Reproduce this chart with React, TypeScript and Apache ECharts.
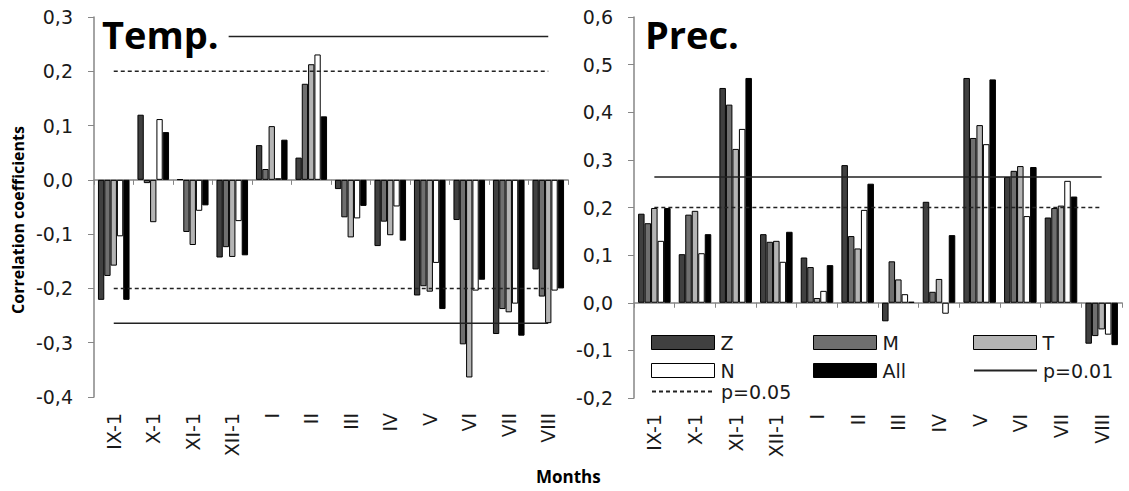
import React, { useEffect, useRef } from "react";
import * as echarts from "echarts";

const categories = ["IX-1", "X-1", "XI-1", "XII-1", "I", "II", "III", "IV", "V", "VI", "VII", "VIII"];
const yTicksTemp = { min: -0.4, max: 0.3, interval: 0.1 };
const yTicksPrec = { min: -0.2, max: 0.6, interval: 0.1 };

const tempZ = [-0.221, 0.12, 0.001, -0.143, 0.064, 0.041, -0.017, -0.122, -0.213, -0.074, -0.284, -0.165];
const tempM = [-0.177, -0.006, -0.096, -0.124, 0.02, 0.177, -0.069, -0.077, -0.196, -0.303, -0.238, -0.215];
const tempT = [-0.158, -0.078, -0.12, -0.142, 0.099, 0.213, -0.106, -0.102, -0.206, -0.364, -0.244, -0.264];
const tempN = [-0.104, 0.112, -0.057, -0.076, 0.003, 0.231, -0.071, -0.049, -0.153, -0.204, -0.228, -0.204];
const tempAll = [-0.221, 0.088, -0.047, -0.139, 0.074, 0.117, -0.048, -0.112, -0.238, -0.184, -0.287, -0.2];

const precZ = [0.187, 0.102, 0.451, 0.144, 0.095, 0.289, -0.039, 0.212, 0.472, 0.264, 0.179, -0.086];
const precM = [0.167, 0.185, 0.416, 0.128, 0.075, 0.14, 0.087, 0.023, 0.346, 0.277, 0.199, -0.07];
const precT = [0.199, 0.193, 0.323, 0.13, 0.01, 0.114, 0.049, 0.05, 0.373, 0.287, 0.204, -0.056];
const precN = [0.13, 0.104, 0.365, 0.086, 0.025, 0.195, 0.018, -0.023, 0.333, 0.182, 0.256, -0.067];
const precAll = [0.199, 0.144, 0.472, 0.149, 0.079, 0.25, 0.002, 0.142, 0.469, 0.285, 0.223, -0.089];

const p01Upper = [0.264, 0.264, 0.264, 0.264, 0.264, 0.264, 0.264, 0.264, 0.264, 0.264, 0.264, 0.264];
const p01Lower = [-0.264, -0.264, -0.264, -0.264, -0.264, -0.264, -0.264, -0.264, -0.264, -0.264, -0.264, -0.264];
const p05Upper = [0.2, 0.2, 0.2, 0.2, 0.2, 0.2, 0.2, 0.2, 0.2, 0.2, 0.2, 0.2];
const p05Lower = [-0.2, -0.2, -0.2, -0.2, -0.2, -0.2, -0.2, -0.2, -0.2, -0.2, -0.2, -0.2];

const seriesNames = ["Z", "M", "T", "N", "All"];
const seriesColors = ["#404040", "#6f6f6f", "#b4b4b4", "#ffffff", "#000000"];

const FONT = "'DejaVu Sans', sans-serif";
const BOLD_FONT = "'Open Sans', sans-serif";
const AXIS_GRAY = "#868686";
const TEXT = "#1a1a1a";

export default function App() {
  const ref = useRef<HTMLDivElement>(null);
  useEffect(() => {
    if (!ref.current) return;
    const chart = echarts.init(ref.current, null, { renderer: "svg" });
    const fmt = (v: number) => v.toFixed(1).replace(".", ",");

    const labelAxis = (gridIndex: number) => ({
      type: "category",
      gridIndex,
      data: categories,
      position: "bottom",
      axisLine: { show: false, onZero: false },
      axisTick: { show: false },
      axisLabel: { rotate: 90, margin: 16, fontSize: 19, color: TEXT, fontFamily: FONT },
    });
    const zeroAxis = (gridIndex: number) => ({
      type: "category",
      gridIndex,
      data: categories,
      position: "bottom",
      axisLine: { show: true, onZero: true, lineStyle: { color: AXIS_GRAY, width: 1.5 } },
      axisTick: { show: true, inside: false, length: 5, lineStyle: { color: AXIS_GRAY } },
      axisLabel: { show: false },
    });
    const yAxis = (gridIndex: number, t: { min: number; max: number; interval: number }) => ({
      type: "value",
      gridIndex,
      min: t.min,
      max: t.max,
      interval: t.interval,
      splitLine: { show: false },
      axisLine: { show: true, lineStyle: { color: AXIS_GRAY, width: 1.5 } },
      axisTick: { show: true, length: 6, lineStyle: { color: AXIS_GRAY } },
      axisLabel: { formatter: fmt, fontSize: 19, color: TEXT, fontFamily: FONT, margin: 21 },
    });

    const bars = (grid: number, data: number[][]) =>
      data.map((d, i) => ({
        type: "bar",
        name: seriesNames[i],
        xAxisIndex: grid * 2,
        yAxisIndex: grid,
        data: d,
        barGap: "0%",
        barCategoryGap: "20%",
        itemStyle: { color: seriesColors[i], borderColor: "#000", borderWidth: 1 },
      }));
    const line = (grid: number, name: string, data: number[], dashed: boolean) => ({
      type: "line",
      name,
      xAxisIndex: grid * 2,
      yAxisIndex: grid,
      data,
      symbol: "none",
      silent: true,
      z: 3,
      lineStyle: { color: "#222", width: 1.5, type: dashed ? [4, 3] : "solid" },
      itemStyle: { color: "#222" },
    });

    const legendBase = (name: string, left: number, top: number) => ({
      data: [name],
      left,
      top,
      padding: 0,
      itemWidth: 63,
      itemHeight: 14,
      itemGap: 0,
      selectedMode: false,
      textStyle: { fontSize: 19, lineHeight: 18, color: TEXT, fontFamily: FONT, padding: [0, 0, 0, 1] },
    });
    const legendBar = (idx: number, left: number, top: number) => ({
      ...legendBase(seriesNames[idx], left, top),
      icon: "rect",
      itemStyle: { color: seriesColors[idx], borderColor: "#000", borderWidth: 1 },
    });
    const legendLine = (name: string, left: number, top: number) => ({
      ...legendBase(name, left, top),
      itemStyle: { opacity: 0 },
    });

    const option: any = {
      animation: false,
      backgroundColor: "#fff",
      textStyle: { fontFamily: FONT },
      title: [
        {
          text: "Temp.",
          left: 97,
          top: 15,
          padding: [0, 10, 0, 5],
          backgroundColor: "#fff",
          textStyle: { fontSize: 38, fontWeight: "bold", color: "#000", fontFamily: BOLD_FONT },
        },
        {
          text: "Prec.",
          left: 640,
          top: 15,
          padding: [0, 10, 0, 5],
          backgroundColor: "#fff",
          textStyle: { fontSize: 38, fontWeight: "bold", color: "#000", fontFamily: BOLD_FONT },
        },
        {
          text: "Months",
          left: 536,
          top: 468,
          padding: 0,
          textStyle: { fontSize: 17, fontWeight: "bold", color: "#000", fontFamily: BOLD_FONT },
        },
      ],
      graphic: [
        {
          type: "text",
          x: 18,
          y: 220,
          rotation: Math.PI / 2,
          style: {
            text: "Correlation coefficients",
            font: "bold 16px 'Open Sans', sans-serif",
            fill: "#000",
            align: "center",
            verticalAlign: "middle",
          },
        },
      ],
      legend: [
        legendBar(0, 651, 333),
        legendBar(1, 813, 333),
        legendBar(2, 973, 333),
        legendBar(3, 651, 361),
        legendBar(4, 813, 361),
        legendLine("p=0.01", 973, 361),
        legendLine("p=0.05", 651, 382),
      ],
      grid: [
        { left: 94, top: 17, width: 474, height: 380 },
        { left: 634, top: 17, width: 488, height: 381 },
      ],
      xAxis: [labelAxis(0), zeroAxis(0), labelAxis(1), zeroAxis(1)],
      yAxis: [yAxis(0, yTicksTemp), yAxis(1, yTicksPrec)],
      series: [
        ...bars(0, [tempZ, tempM, tempT, tempN, tempAll]),
        line(0, "p=0.01", p01Upper, false),
        line(0, "p=0.01", p01Lower, false),
        line(0, "p=0.05", p05Upper, true),
        line(0, "p=0.05", p05Lower, true),
        ...bars(1, [precZ, precM, precT, precN, precAll]),
        line(1, "p=0.01", p01Upper, false),
        line(1, "p=0.05", p05Upper, true),
      ],
    };
    chart.setOption(option);
    return () => chart.dispose();
  }, []);

  return (
    <div
      ref={ref}
      style={{ position: "absolute", left: 0, top: 0, width: 1129, height: 491, background: "#fff" }}
    />
  );
}
